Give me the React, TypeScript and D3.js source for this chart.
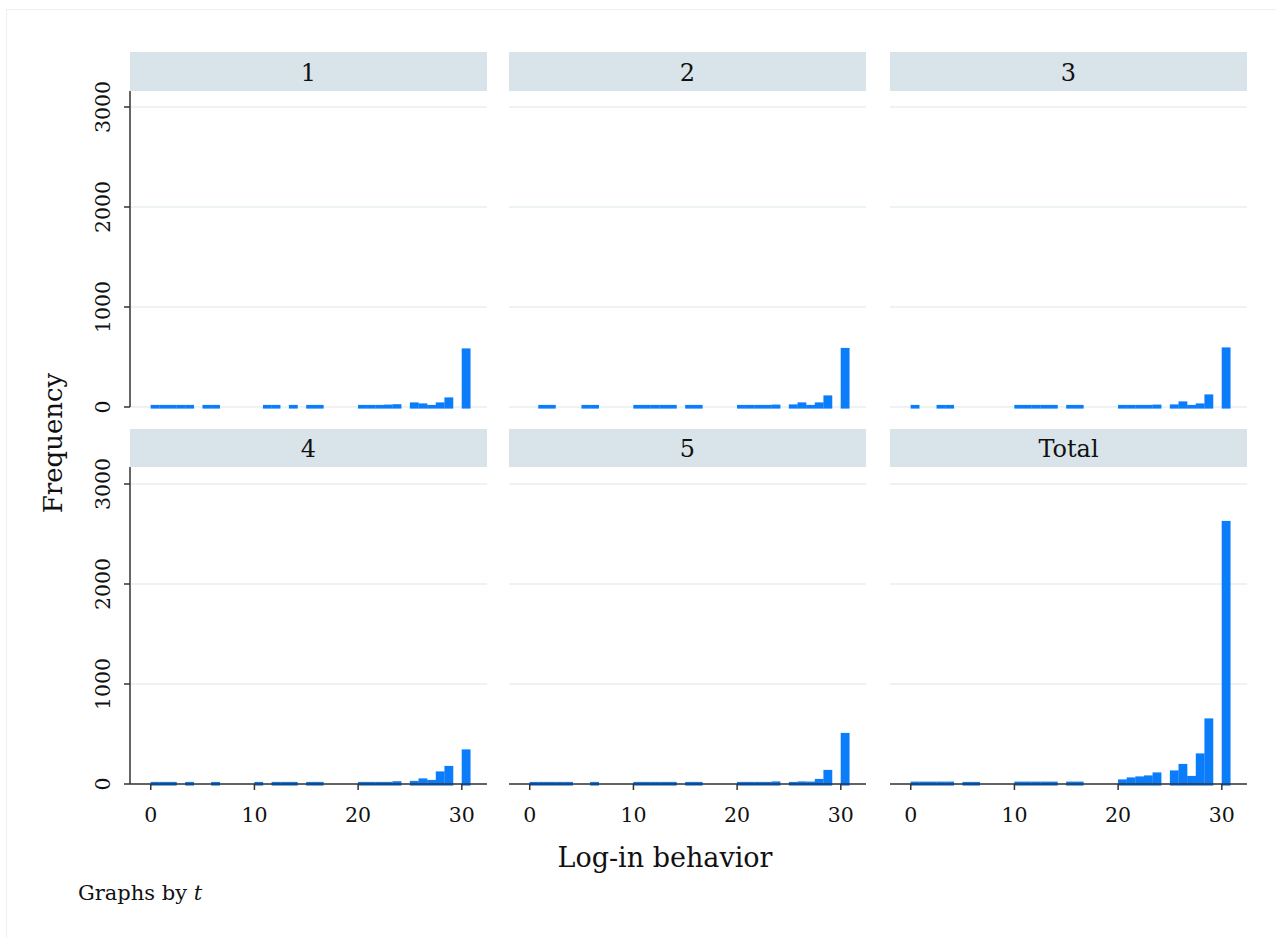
import React from 'react';
import * as d3 from 'd3';

// log-in days (0..30), frequency per day for each group t
const days = [0, 1, 2, 3, 4, 5, 6, 7, 8, 9, 10, 11, 12, 13, 14, 15, 16, 17, 18, 19, 20, 21, 22, 23, 24, 25, 26, 27, 28, 29, 30];

const freqT1 = [5, 5, 5, 5, 5, 5, 5, 0, 0, 0, 0, 5, 5, 0, 5, 5, 5, 0, 0, 0, 5, 5, 5, 8, 12, 30, 20, 5, 30, 80, 570];
const freqT2 = [0, 5, 5, 0, 0, 5, 5, 0, 0, 0, 5, 5, 5, 5, 5, 5, 5, 0, 0, 0, 5, 5, 5, 5, 8, 10, 30, 5, 30, 100, 575];
const freqT3 = [5, 0, 0, 5, 5, 0, 0, 0, 0, 0, 5, 5, 5, 5, 5, 5, 5, 0, 0, 0, 5, 5, 5, 5, 8, 10, 40, 5, 20, 110, 580];
const freqT4 = [5, 5, 5, 0, 5, 0, 5, 0, 0, 0, 5, 0, 5, 5, 5, 5, 5, 0, 0, 0, 5, 5, 5, 5, 12, 15, 40, 25, 110, 165, 330];
const freqT5 = [5, 5, 5, 5, 5, 0, 5, 0, 0, 0, 5, 5, 5, 5, 5, 5, 5, 0, 0, 0, 5, 5, 5, 5, 10, 5, 10, 8, 35, 125, 495];
const freqTotal = [8, 8, 8, 8, 8, 5, 5, 0, 0, 0, 8, 8, 8, 8, 8, 8, 8, 0, 0, 0, 30, 50, 60, 70, 100, 120, 185, 65, 290, 640, 2615];

const panelLabels = ['1', '2', '3', '4', '5', 'Total'];
const panelFreqs = [freqT1, freqT2, freqT3, freqT4, freqT5, freqTotal];

const yTicks = [0, 1000, 2000, 3000];
const xTicks = [0, 10, 20, 30];

const BIN_W = 30 / 36;
const FONT = '"DejaVu Serif", serif';
const BAR = '#0b7dfb';
const STRIP = '#d9e4ea';
const GRID = '#e7eff2';
const AXIS = '#333333';

const colLeft = [130, 509, 890];
const colW = 357;
const stripTop = [52, 429];
const stripBottom = [91, 467];
const zeroY = [407, 784];

const App = () => {
  const W = 1276;
  const H = 938;

  return (
    <svg width={W} height={H} style={{ position: 'absolute', left: 0, top: 0, background: '#fff' }}
      fontFamily={FONT}>
      {/* faint outer frame */}
      <line x1={6} x2={W} y1={9.5} y2={9.5} stroke="#efefef" />
      <line x1={6.5} x2={6.5} y1={9} y2={H} stroke="#efefef" />

      {panelLabels.map((label, i) => {
        const row = Math.floor(i / 3);
        const col = i % 3;
        const left = colLeft[col];
        const right = left + colW;
        const x = d3.scaleLinear().domain([-2, 32.43]).range([left, right]);
        const y = d3.scaleLinear().domain([0, 3000]).range([zeroY[row], zeroY[row] - 300]);
        const counts = panelFreqs[i];
        const bwPx = x(BIN_W) - x(0);

        return (
          <g key={label}>
            {/* strip */}
            <rect x={left} y={stripTop[row]} width={colW} height={stripBottom[row] - stripTop[row]} fill={STRIP} />
            <text x={(left + right) / 2} y={(stripTop[row] + stripBottom[row]) / 2 + 1}
              textAnchor="middle" dominantBaseline="central" fontSize={24} fill="#111">{label}</text>

            {/* gridlines */}
            {yTicks.map(t => (
              <line key={t} x1={left} x2={right} y1={y(t)} y2={y(t)} stroke={GRID} strokeWidth={1.5} />
            ))}

            {/* bars */}
            {days.map((d, k) => {
              const c = counts[k];
              if (!c) return null;
              const x0 = Math.floor(d / BIN_W + 1e-9) * BIN_W;
              return (
                <rect key={d}
                  x={x(x0) + 1.5} width={bwPx - 3}
                  y={y(c)} height={y(0) - y(c)}
                  fill={BAR} stroke={BAR} strokeWidth={3.2} />
              );
            })}

            {/* y axis on left column */}
            {col === 0 && (
              <g>
                <line x1={left} x2={left} y1={stripBottom[row]} y2={zeroY[row]} stroke={AXIS} strokeWidth={1.5} />
                {yTicks.map(t => (
                  <g key={t}>
                    <line x1={left - 6} x2={left} y1={y(t)} y2={y(t)} stroke={AXIS} strokeWidth={1.5} />
                    <text transform={`translate(${left - 20},${y(t)}) rotate(-90)`} textAnchor="middle"
                      fontSize={20.5} fill="#111">{t}</text>
                  </g>
                ))}
              </g>
            )}

            {/* x axis on bottom row */}
            {row === 1 && (
              <g>
                <line x1={left} x2={right} y1={zeroY[row]} y2={zeroY[row]} stroke={AXIS} strokeWidth={1.5} />
                {xTicks.map(t => (
                  <g key={t}>
                    <line x1={x(t)} x2={x(t)} y1={zeroY[row]} y2={zeroY[row] + 6} stroke={AXIS} strokeWidth={1.5} />
                    <text x={x(t)} y={zeroY[row] + 38} textAnchor="middle" fontSize={20.5} fill="#111">{t}</text>
                  </g>
                ))}
              </g>
            )}
          </g>
        );
      })}

      {/* axis titles */}
      <text transform="translate(62,443) rotate(-90)" textAnchor="middle" fontSize={26} fill="#111">Frequency</text>
      <text x={665} y={867} textAnchor="middle" fontSize={27} fill="#111">Log-in behavior</text>
      <text x={78} y={900} fontSize={21} fill="#111">
        Graphs by <tspan fontStyle="italic">t</tspan>
      </text>
    </svg>
  );
};

export default App;
